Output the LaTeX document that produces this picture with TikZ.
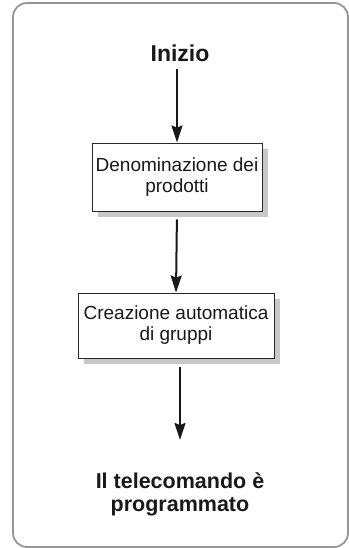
\documentclass[tikz,border=0pt]{standalone}
\usepackage{fontspec}
\setmainfont{Liberation Sans}
\usetikzlibrary{arrows.meta,positioning}

% --- COLORI ---
\definecolor{framegray}{RGB}{150, 150, 150}
\definecolor{boxborder}{RGB}{40, 40, 40}
\definecolor{shadowgray}{RGB}{200, 200, 200}
\definecolor{textblack}{RGB}{25, 25, 25}

\begin{document}
\begin{tikzpicture}[
        x=1pt, y=-1pt, % coordinate in pixel, asse y verso il basso
        >={Stealth[width=11pt,length=17pt,inset=2pt]},
        passo/.style={draw=boxborder, line width=0.9pt, fill=white, align=center,
            text=textblack, font=\fontsize{19}{21}\selectfont, inner xsep=3pt},
        ombra/.style={fill=shadowgray, draw=none, inner sep=0pt},
        titolo/.style={align=center, text=textblack, font=\bfseries\fontsize{21.5}{23}\selectfont},
        freccia/.style={->, line width=2pt, draw=textblack}
    ]

        \useasboundingbox (0,0) rectangle (348,548);

        % --- CORNICE ---
        \draw[color=framegray, line width=1.8pt, rounded corners=14pt] (13,3) rectangle (348,547);

        % --- OMBRE DEI RIQUADRI (prima dei riquadri) ---
        \node[ombra, minimum width=170pt, minimum height=68pt] (ombra prodotti) at (183,183) {};
        \node[ombra, minimum width=196pt, minimum height=65pt] (ombra gruppi) at (182,331.5) {};

        % --- NODI ---
        \node[titolo, font=\bfseries\fontsize{23}{25}\selectfont] (inizio) at (180,53) {Inizio};
        \node[passo, minimum width=170pt, minimum height=68pt] (prodotti) at (177,177)
            {Denominazione dei\\prodotti};
        \node[passo, minimum width=196pt, minimum height=65pt] (gruppi) at (176,325.5)
            {Creazione automatica\\di gruppi};
        \node[titolo, anchor=north] (fine) at (180,469) {Il telecomando è\\programmato};

        % --- FRECCE ---
        \draw[freccia, shorten <=4pt] (inizio.south -| prodotti.north) -- (prodotti.north);
        \draw[freccia, shorten <=8pt] (prodotti.south) -- (gruppi.north);
        \draw[freccia, shorten <=9pt, shorten >=29pt] (gruppi.south -| fine.north) -- (fine.north);

    \end{tikzpicture}
\end{document}
